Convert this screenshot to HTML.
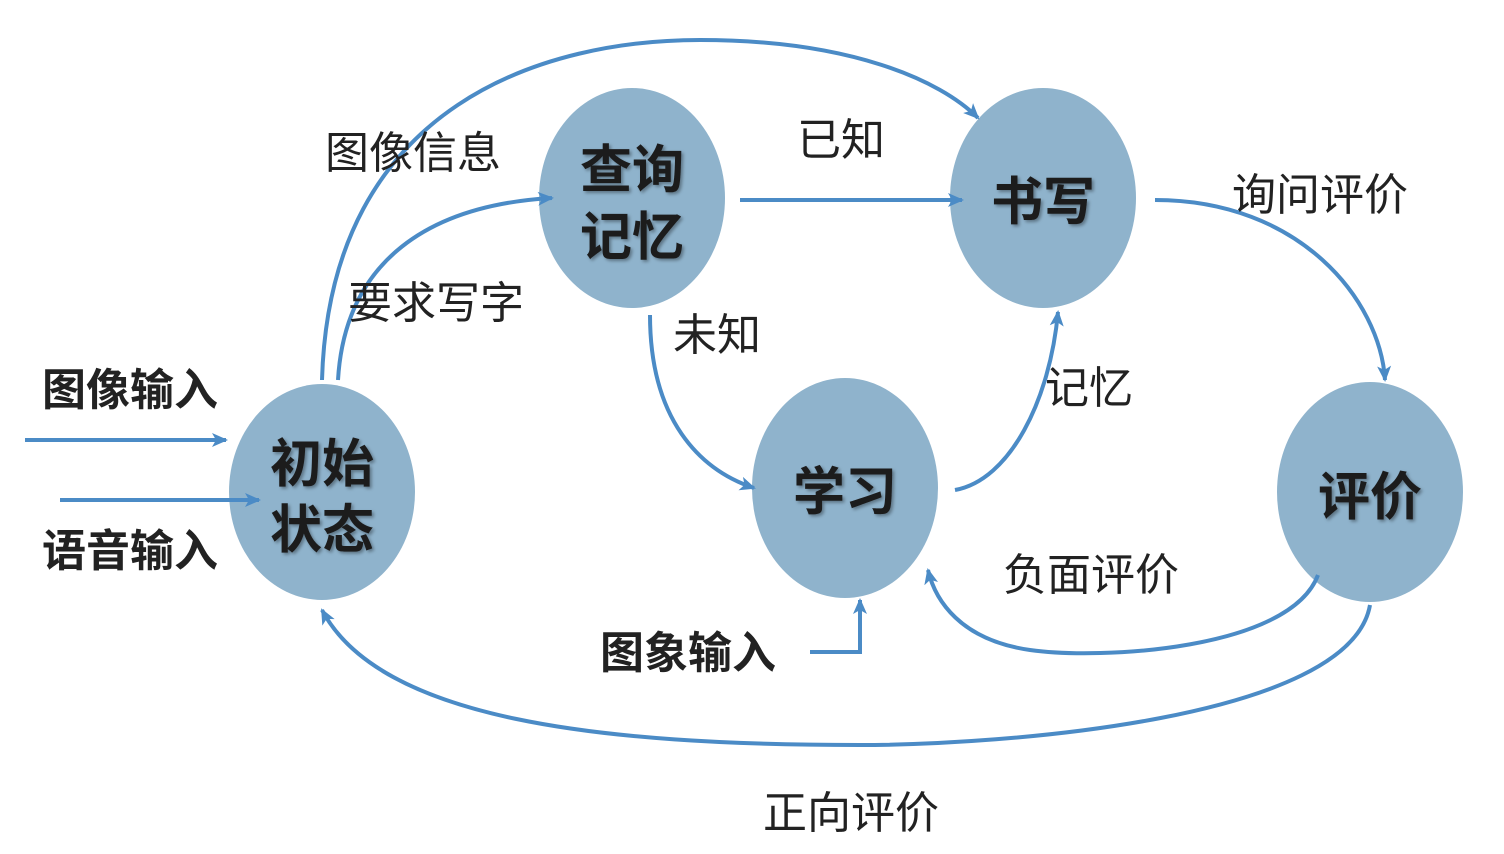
<!DOCTYPE html>
<html><head><meta charset="utf-8"><style>
html,body{margin:0;padding:0;background:#fff;}
svg{display:block;}
text{font-family:"Liberation Sans","Noto Sans CJK SC",sans-serif;}
.l{font-size:44px;fill:#222;}
.b{font-size:44px;fill:#222;font-weight:bold;}
.n{font-size:52px;fill:#1a1a1a;font-weight:bold;}
.a{fill:none;stroke:#4b8bc6;stroke-width:4;}
</style></head><body>
<svg width="1504" height="854" viewBox="0 0 1504 854" xmlns="http://www.w3.org/2000/svg">
<defs>
<marker id="am" markerWidth="18" markerHeight="18" refX="14" refY="9" orient="auto" markerUnits="userSpaceOnUse">
<path d="M0,2 L16,9 L0,16 L4,9 Z" fill="#4b8bc6"/>
</marker>
<filter id="sh"><feDropShadow dx="2" dy="2" stdDeviation="1.5" flood-color="#000" flood-opacity="0.35"/></filter>
</defs>
<g fill="#8fb3cc">
<ellipse cx="322" cy="492" rx="93" ry="108"/>
<ellipse cx="632" cy="198" rx="93" ry="110"/>
<ellipse cx="1043" cy="198" rx="93" ry="110"/>
<ellipse cx="845" cy="488" rx="93" ry="110"/>
<ellipse cx="1370" cy="492" rx="93" ry="110"/>
</g>
<g class="a">
<path d="M322,380 C330,100 550,40 700,40 C850,40 940,80 978,118" marker-end="url(#am)"/>
<path d="M338,380 C345,260 430,205 552,198" marker-end="url(#am)"/>
<path d="M740,200 L962,200" marker-end="url(#am)"/>
<path d="M1155,200 C1300,200 1380,300 1385,380" marker-end="url(#am)"/>
<path d="M650,315 C650,420 700,470 754,488" marker-end="url(#am)"/>
<path d="M955,490 C1010,480 1050,400 1058,312" marker-end="url(#am)"/>
<path d="M1318,575 C1290,650 1100,660 1030,650 C960,640 935,600 928,570" marker-end="url(#am)"/>
<path d="M1370,605 C1350,720 1000,745 860,745 C600,745 380,720 322,610" marker-end="url(#am)"/>
<path d="M810,652 L860,652 L860,600" marker-end="url(#am)"/>
<path d="M25,440 L226,440" marker-end="url(#am)"/>
<path d="M60,500 L259,500" marker-end="url(#am)"/>
</g>
<g filter="url(#sh)">
<text class="n" x="322" y="482" text-anchor="middle">初始</text>
<text class="n" x="322" y="548" text-anchor="middle">状态</text>
<text class="n" x="632" y="188" text-anchor="middle">查询</text>
<text class="n" x="632" y="255" text-anchor="middle">记忆</text>
<text class="n" x="1043" y="220" text-anchor="middle">书写</text>
<text class="n" x="845" y="510" text-anchor="middle">学习</text>
<text class="n" x="1370" y="515" text-anchor="middle">评价</text>
</g>
<text class="l" x="325" y="168">图像信息</text>
<text class="l" x="348" y="318">要求写字</text>
<text class="l" x="797" y="155">已知</text>
<text class="l" x="673" y="350">未知</text>
<text class="l" x="1232" y="210">询问评价</text>
<text class="l" x="1045" y="403">记忆</text>
<text class="l" x="1003" y="590">负面评价</text>
<text class="l" x="763" y="828">正向评价</text>
<text class="b" x="42" y="405">图像输入</text>
<text class="b" x="42" y="566">语音输入</text>
<text class="b" x="600" y="668">图象输入</text>
</svg>
</body></html>
